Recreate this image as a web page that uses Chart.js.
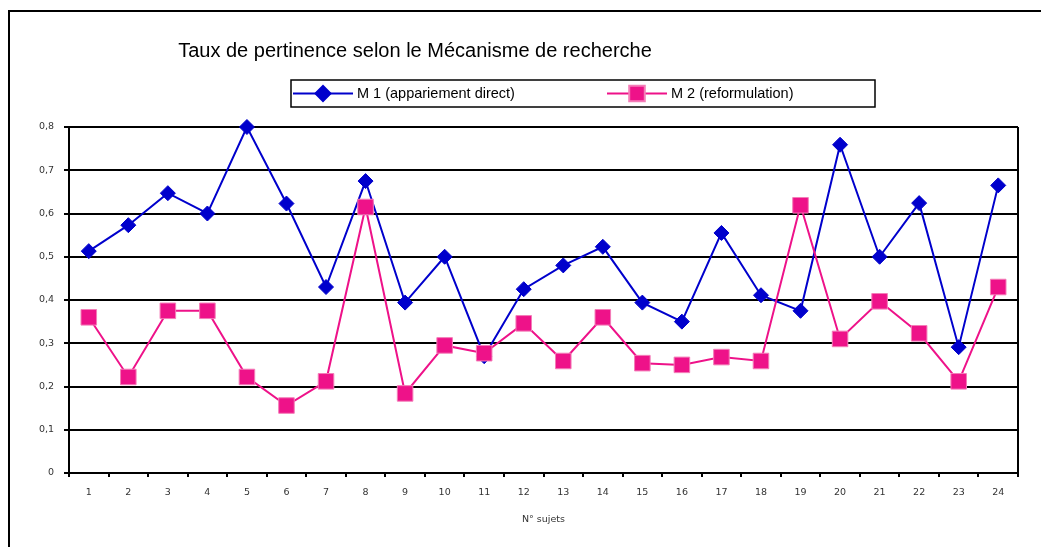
<!DOCTYPE html>
<html>
<head>
<meta charset="utf-8">
<script src="https://cdn.jsdelivr.net/npm/chart.js@4.4.0/dist/chart.umd.min.js"></script>
<style>
  html, body { margin: 0; padding: 0; background: #fff; }
  canvas { display: block; }
</style>
</head>
<body>
<canvas id="pertinenceChart" width="1041" height="547"></canvas>
<script>
// données
const sujets = ['1', '2', '3', '4', '5', '6', '7', '8', '9', '10', '11', '12',
  '13', '14', '15', '16', '17', '18', '19', '20', '21', '22', '23', '24'];
const m1Values = [0.513, 0.573, 0.647, 0.600, 0.800, 0.623, 0.430, 0.675, 0.394, 0.500, 0.270, 0.425,
  0.480, 0.523, 0.394, 0.350, 0.555, 0.411, 0.375, 0.759, 0.500, 0.624, 0.291, 0.665];
const m2Values = [0.360, 0.222, 0.375, 0.375, 0.222, 0.156, 0.212, 0.615, 0.184, 0.295, 0.277, 0.346,
  0.259, 0.360, 0.254, 0.250, 0.268, 0.259, 0.619, 0.310, 0.397, 0.323, 0.212, 0.430];
const yTicks = [0, 0.1, 0.2, 0.3, 0.4, 0.5, 0.6, 0.7, 0.8];

const titre = 'Taux de pertinence selon le Mécanisme de recherche';
const BLUE = '#0000CC';
const PINK = '#EE1289';
const tickFont = { family: '"DejaVu Sans"', size: 9.5 };

// titre, cadre et légende dessinés à la main
const decorPlugin = {
    id: 'decor',
    afterDraw(chart) {
        const ctx = chart.ctx;
        const area = chart.chartArea;
        ctx.save();
        // cadre extérieur
        ctx.strokeStyle = '#000';
        ctx.lineWidth = 2;
        ctx.strokeRect(9, 11, 1100, 600);
        // bord droit de la zone de tracé
        ctx.beginPath();
        ctx.moveTo(area.right, area.top);
        ctx.lineTo(area.right, area.bottom);
        ctx.stroke();
        // titre
        ctx.fillStyle = '#000';
        ctx.font = '20px "Liberation Sans"';
        ctx.textAlign = 'center';
        ctx.textBaseline = 'alphabetic';
        ctx.fillText(titre, 415, 57);
        // légende
        ctx.lineWidth = 1.5;
        ctx.strokeRect(291, 80, 584, 27);
        const items = [{ x: 293 }, { x: 607 }];
        chart.data.datasets.forEach((ds, i) => {
            const x0 = items[i].x;
            const y = 93.5;
            ctx.strokeStyle = ds.borderColor;
            ctx.lineWidth = 2;
            ctx.beginPath();
            ctx.moveTo(x0, y);
            ctx.lineTo(x0 + 60, y);
            ctx.stroke();
            ctx.fillStyle = ds.pointBackgroundColor;
            ctx.strokeStyle = ds.pointBorderColor;
            Chart.helpers.drawPoint(ctx, {
                pointStyle: ds.pointStyle,
                radius: ds.pointRadius,
                rotation: 0,
                borderWidth: ds.pointBorderWidth
            }, x0 + 30, y);
            ctx.fillStyle = '#000';
            ctx.font = '14.5px "Liberation Sans"';
            ctx.textAlign = 'left';
            ctx.textBaseline = 'middle';
            ctx.fillText(ds.label, x0 + 64, y);
        });
        ctx.restore();
    }
};

function initChart() {
    const ctx = document.getElementById('pertinenceChart');
    new Chart(ctx, {
        type: 'line',
        data: {
            labels: sujets,
            datasets: [
                {
                    label: 'M 1 (appariement direct)',
                    data: m1Values,
                    borderColor: BLUE,
                    borderWidth: 2,
                    pointStyle: 'rectRot',
                    pointRadius: 7.5,
                    pointBackgroundColor: BLUE,
                    pointBorderColor: BLUE,
                    pointBorderWidth: 1,
                    tension: 0,
                    fill: false,
                    clip: false,
                    order: 1
                },
                {
                    label: 'M 2 (reformulation)',
                    data: m2Values,
                    borderColor: PINK,
                    borderWidth: 2,
                    pointStyle: 'rect',
                    pointRadius: 11,
                    pointBackgroundColor: PINK,
                    pointBorderColor: '#F47DB8',
                    pointBorderWidth: 1,
                    tension: 0,
                    fill: false,
                    clip: false,
                    order: 0
                }
            ]
        },
        options: {
            responsive: false,
            animation: false,
            layout: {
                padding: { left: 0, top: 127, right: 23, bottom: 22 }
            },
            plugins: {
                legend: { display: false },
                title: { display: false },
                tooltip: { enabled: false }
            },
            scales: {
                x: {
                    offset: true,
                    grid: {
                        offset: true,
                        drawOnChartArea: false,
                        tickLength: 4,
                        color: '#000',
                        lineWidth: 2
                    },
                    border: { color: '#000', width: 2 },
                    ticks: {
                        font: tickFont,
                        color: '#333',
                        padding: 10,
                        maxRotation: 0,
                        autoSkip: false
                    },
                    title: {
                        display: true,
                        text: 'N° sujets',
                        font: tickFont,
                        color: '#333',
                        padding: 0
                    },
                    afterFit(scale) { scale.height = 52; }
                },
                y: {
                    min: 0,
                    max: 0.8,
                    afterBuildTicks(scale) {
                        scale.ticks = yTicks.map(v => ({ value: v }));
                    },
                    grid: {
                        color: '#000',
                        lineWidth: 2,
                        tickLength: 5
                    },
                    border: { color: '#000', width: 2 },
                    ticks: {
                        font: tickFont,
                        color: '#333',
                        padding: 10,
                        callback: v => v === 0 ? '0' : v.toFixed(1).replace('.', ',')
                    },
                    afterFit(scale) { scale.width = 69; }
                }
            }
        },
        plugins: [decorPlugin]
    });
}

initChart();
</script>
</body>
</html>
